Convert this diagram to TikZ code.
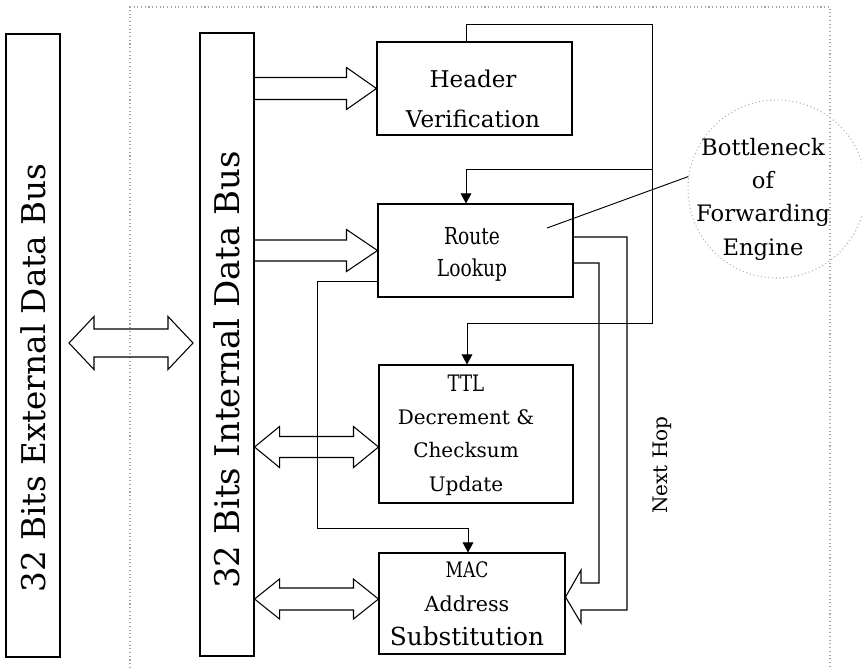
\documentclass[tikz,border=0pt]{standalone}
\usepackage{fontspec}
\setmainfont{DejaVu Serif}
\usetikzlibrary{calc,arrows.meta}
\newcommand\blkR[5]{%
  \draw[blk] ($(#1)+(0,-#3)$) -- ($(#2)+(-#5,-#3)$) -- ($(#2)+(-#5,-#4)$) -- (#2) -- ($(#2)+(-#5,#4)$) -- ($(#2)+(-#5,#3)$) -- ($(#1)+(0,#3)$);}
\newcommand\blkD[5]{%
  \draw[blk] (#1) -- ($(#1)+(#5,-#4)$) -- ($(#1)+(#5,-#3)$) -- ($(#2)+(-#5,-#3)$) -- ($(#2)+(-#5,-#4)$) -- (#2) -- ($(#2)+(-#5,#4)$) -- ($(#2)+(-#5,#3)$) -- ($(#1)+(#5,#3)$) -- ($(#1)+(#5,#4)$) -- cycle;}
\newcommand\cond[1]{\scalebox{0.8}[1]{#1}}
\begin{document}
\begin{tikzpicture}[x=0.75pt,y=-0.75pt,
  box/.style={draw,line width=0.8pt,inner sep=0pt},
  conn/.style={line width=0.7pt},
  blk/.style={line width=0.8pt,line join=miter},
  arr/.style={conn,-{Triangle[width=8pt,length=7.5pt]}},
  frame/.style={gray!70,dotted,line width=0.8pt},
  lbl/.style={align=center,inner sep=0pt}]
\useasboundingbox (0,0) rectangle (862,668);
% dotted frame
\draw[frame] (130,668) -- (130,7) -- (830,7) -- (830,668);
% buses
\node[box,minimum width=40.5pt,minimum height=467.25pt] (eb) at (33,345.5) {};
\node[box,minimum width=40.5pt,minimum height=467.25pt] (ib) at (227,344.5) {};
\node[rotate=90,font=\fontsize{24.5}{28}\selectfont] (ebt) at (33,378) {32 Bits External Data Bus};
\node[rotate=90,font=\fontsize{25.5}{29}\selectfont] (ibt) at (227,370) {32 Bits Internal Data Bus};
% boxes
\node[box,minimum width=146.25pt,minimum height=69.75pt] (hv) at (474.5,88.5) {};
\node[box,minimum width=146.25pt,minimum height=69.75pt] (rl) at (475.5,250.5) {};
\node[box,minimum width=145.5pt,minimum height=103.5pt] (ttl) at (476,434) {};
\node[box,minimum width=139.5pt,minimum height=75.75pt] (mac) at (472,603.5) {};
\node[lbl,font=\fontsize{17.3}{30}\selectfont] (hvt) at (473,99) {Header\\Verification};
\node[lbl,font=\fontsize{17.5}{24}\selectfont] (rlt) at (472,254) {\cond{Route}\\\cond{Lookup}};
\node[lbl,font=\fontsize{15}{25}\selectfont] (ttlt) at (466,435) {\cond{\fontsize{17}{25}\selectfont TTL}\\Decrement \&\\Checksum\\Update};
\node[lbl,font=\fontsize{18.6}{25.5}\selectfont] (mact) at (467,604) {\cond{\fontsize{16}{25.5}\selectfont MAC}\\{\fontsize{15.5}{25.5}\selectfont Address}\\Substitution};
% bottleneck circle
\begin{scope}
\clip (0,0) rectangle (862,668);
\node[circle,draw=gray!60,dotted,line width=0.8pt,minimum size=133.5pt,inner sep=0pt] (bn) at (777,189) {};
\end{scope}
\node[lbl,font=\fontsize{17}{25}\selectfont] (bnt) at (763,199) {Bottleneck\\of\\Forwarding\\Engine};
\coordinate (rlp) at (547,228);
\draw[conn] (rlp) -- (bn.172);
% Next Hop
\node[rotate=90,font=\fontsize{15}{20}\selectfont] (nh) at (662,465) {Next Hop};
% block arrows
\coordinate (exL) at (69,343);
\coordinate (exR) at (193,343);
\blkD{exL}{exR}{14}{26.5}{25}
\coordinate (hvs) at (ib.east |- hv.west);
\blkR{hvs}{hv.west}{11}{21}{30}
\coordinate (rls) at (ib.east |- rl.west);
\blkR{rls}{rl.west}{10.5}{21}{31}
\coordinate (ttlR) at ($(ttl.west)+(0,13)$);
\coordinate (ttlL) at (ib.east |- ttlR);
\blkD{ttlL}{ttlR}{10.5}{20.5}{25}
\coordinate (macR) at ($(mac.west)+(0,-4.5)$);
\coordinate (macL) at (ib.east |- macR);
\blkD{macL}{macR}{11}{20}{25}
% next hop wide arrow
\coordinate (nhA) at ($(rl.east)+(0,-13.5)$);
\coordinate (nhB) at ($(rl.east)+(0,12.5)$);
\coordinate (nhT) at ($(mac.east)+(0,-6.5)$);
\draw[blk] (nhA) -- (627,237) -- (627,610) -- (581,610) -- (581,623) -- (nhT) -- (581,570) -- (581,583) -- (599,583) -- (599,263) -- (nhB);
% connectors
\coordinate (c1) at (652,24);
\coordinate (c2) at (652,323);
\coordinate (c3) at (652,169);
\draw[arr] ($(hv.north)+(-8.5,0)$) |- (c1) -- (c2) -| ($(ttl.north)+(-9,0)$);
\draw[arr] (c3) -| ($(rl.north)+(-9.5,0)$);
\coordinate (c4) at (317,281);
\coordinate (c5) at (317,528);
\draw[arr] (rl.west |- c4) -- (c4) -- (c5) -| ($(mac.north)+(-4,0)$);
\end{tikzpicture}
\end{document}
